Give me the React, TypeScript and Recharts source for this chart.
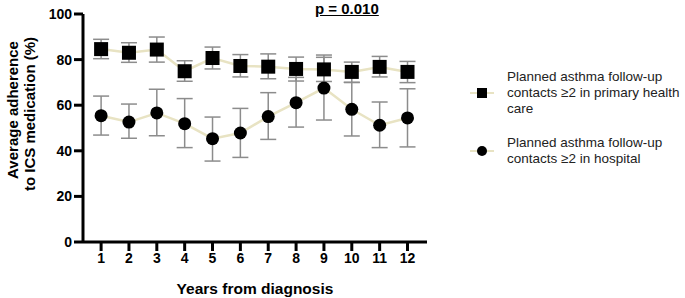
import React from "react";
import {
  ComposedChart,
  Line,
  XAxis,
  YAxis,
  ErrorBar,
} from "recharts";

const years = [1, 2, 3, 4, 5, 6, 7, 8, 9, 10, 11, 12];
const yTicks = [0, 20, 40, 60, 80, 100];
const seriesNames = [
  "Planned asthma follow-up contacts \u22652 in primary health care",
  "Planned asthma follow-up contacts \u22652 in hospital",
];

const primaryMean = [84.6, 83.0, 84.4, 74.9, 80.7, 77.2, 76.9, 75.9, 75.7, 74.6, 76.8, 74.6];
const primaryLow = [80.4, 78.8, 78.9, 70.5, 75.9, 72.4, 71.6, 70.6, 70.4, 70.0, 72.4, 69.9];
const primaryHigh = [88.9, 87.4, 89.9, 79.5, 85.5, 82.2, 82.5, 81.1, 82.0, 78.9, 81.4, 79.2];

const hospitalMean = [55.4, 52.6, 56.6, 51.9, 45.3, 47.8, 55.0, 61.1, 67.5, 58.2, 51.2, 54.4];
const hospitalLow = [46.9, 45.5, 46.6, 41.4, 35.5, 37.1, 45.0, 50.4, 53.5, 46.5, 41.4, 41.7];
const hospitalHigh = [64.0, 60.5, 67.0, 62.9, 54.8, 58.6, 65.5, 72.2, 81.0, 70.0, 61.4, 67.2];

const FONT = "'Liberation Sans', Arial, sans-serif";
const LINE_COLOR = "#e8e3c3";
const ERR_COLOR = "#8c8c8c";

const data = years.map((year, i) => ({
  year,
  primary: primaryMean[i],
  primaryErr: [primaryMean[i] - primaryLow[i], primaryHigh[i] - primaryMean[i]],
  hospital: hospitalMean[i],
  hospitalErr: [hospitalMean[i] - hospitalLow[i], hospitalHigh[i] - hospitalMean[i]],
}));

const SquareDot = (props: any) => {
  const { cx, cy, index } = props;
  if (cx == null || cy == null) return <g key={"s" + index} />;
  return <rect key={"s" + index} x={cx - 7} y={cy - 7} width={14} height={14} fill="#000" />;
};

const CircleDot = (props: any) => {
  const { cx, cy, index } = props;
  if (cx == null || cy == null) return <g key={"c" + index} />;
  return <circle key={"c" + index} cx={cx} cy={cy} r={6.5} fill="#000" />;
};

const YLabel = () => (
  <g fontFamily={FONT} fontWeight="bold" fontSize={15} fill="#000">
    <text x={18} y={110} transform="rotate(-90 18 110)" textAnchor="middle">
      Average adherence
    </text>
    <text x={35} y={114} transform="rotate(-90 35 114)" textAnchor="middle">
      to ICS medication (%)
    </text>
  </g>
);

// legend drawn by hand, the recharts one eats into the plot width
const LegendBox = () => (
  <div
    style={{
      position: "absolute",
      left: 464,
      top: 69,
      fontFamily: FONT,
      fontSize: 13.5,
      color: "#222",
      lineHeight: "16px",
    }}
  >
    {seriesNames.map((name, i) => (
      <div key={name} style={{ display: "flex", alignItems: "center", marginBottom: 18 }}>
        <svg width={43} height={16} style={{ flex: "none" }}>
          <line x1={6} y1={8} x2={30} y2={8} stroke={LINE_COLOR} strokeWidth={2} />
          {i === 0 ? (
            <rect x={13} y={3} width={10} height={10} fill="#000" />
          ) : (
            <circle cx={18} cy={8} r={5} fill="#000" />
          )}
        </svg>
        <div style={{ width: 176 }}>{name}</div>
      </div>
    ))}
  </div>
);

export default function App() {
  return (
    <div style={{ position: "absolute", left: 0, top: 0, width: 685, height: 298, overflow: "hidden" }}>
      <div
        style={{
          position: "absolute",
          left: 315,
          top: 0,
          fontFamily: FONT,
          fontWeight: "bold",
          fontSize: 15,
          textDecoration: "underline",
          color: "#000",
          zIndex: 2,
        }}
      >
        p = 0.010
      </div>
      <LegendBox />
      <ComposedChart
        width={685}
        height={298}
        data={data}
        margin={{ top: 14, right: 258, bottom: 0, left: 0 }}
      >
        <XAxis
          dataKey="year"
          type="number"
          domain={[0.35, 12.7]}
          ticks={years}
          interval={0}
          allowDataOverflow
          height={56}
          axisLine={{ stroke: "#000", strokeWidth: 3 }}
          tickLine={{ stroke: "#000", strokeWidth: 3 }}
          tickSize={9}
          tick={{ fill: "#000", fontSize: 14, fontWeight: "bold", fontFamily: FONT }}
          label={{
            value: "Years from diagnosis",
            position: "insideBottom",
            offset: 4,
            fill: "#000",
            fontSize: 15.5,
            fontWeight: "bold",
            fontFamily: FONT,
          }}
        />
        <YAxis
          domain={[0, 100]}
          ticks={yTicks}
          interval={0}
          width={83}
          axisLine={{ stroke: "#000", strokeWidth: 3 }}
          tickLine={{ stroke: "#000", strokeWidth: 3 }}
          tickSize={9}
          tick={{ fill: "#000", fontSize: 14, fontWeight: "bold", fontFamily: FONT }}
          label={{ content: () => <YLabel /> }}
        />
        <Line
          dataKey="primary"
          stroke={LINE_COLOR}
          strokeWidth={2.5}
          isAnimationActive={false}
          dot={SquareDot}
          activeDot={false}
        >
          <ErrorBar dataKey="primaryErr" width={8} stroke={ERR_COLOR} strokeWidth={1.5} direction="y" />
        </Line>
        <Line
          dataKey="hospital"
          stroke={LINE_COLOR}
          strokeWidth={2.5}
          isAnimationActive={false}
          dot={CircleDot}
          activeDot={false}
        >
          <ErrorBar dataKey="hospitalErr" width={8} stroke={ERR_COLOR} strokeWidth={1.5} direction="y" />
        </Line>
      </ComposedChart>
    </div>
  );
}
